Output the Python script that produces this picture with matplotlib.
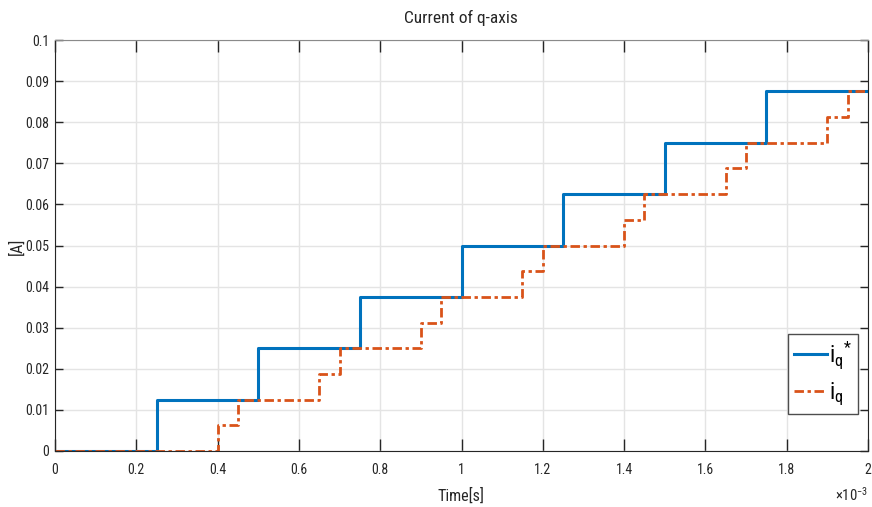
import numpy as np
import matplotlib
matplotlib.use("Agg")
import matplotlib.pyplot as plt
from matplotlib import font_manager

# step change times (ms) and levels (A) of the reference current
ref_times = [0.0, 0.25, 0.50, 0.75, 1.00, 1.25, 1.50, 1.75, 2.00]
ref_levels = [0.0, 0.0125, 0.025, 0.0375, 0.05, 0.0625, 0.075, 0.0875, 0.0875]

# step change times (ms) and levels (A) of the measured current
act_times = [0.0, 0.40, 0.45, 0.65, 0.70, 0.90, 0.95, 1.15, 1.20,
             1.40, 1.45, 1.65, 1.70, 1.90, 1.95, 2.00]
act_levels = [0.0, 0.00625, 0.0125, 0.01875, 0.025, 0.03125, 0.0375, 0.04375,
              0.05, 0.05625, 0.0625, 0.06875, 0.075, 0.08125, 0.0875, 0.0875]

x_ticks = [0, 0.2, 0.4, 0.6, 0.8, 1, 1.2, 1.4, 1.6, 1.8, 2]
x_tick_labels = ["0", "0.2", "0.4", "0.6", "0.8", "1", "1.2", "1.4", "1.6", "1.8", "2"]
y_ticks = [0, 0.01, 0.02, 0.03, 0.04, 0.05, 0.06, 0.07, 0.08, 0.09, 0.1]
y_tick_labels = ["0", "0.01", "0.02", "0.03", "0.04", "0.05", "0.06", "0.07", "0.08", "0.09", "0.1"]

names = {f.name for f in font_manager.fontManager.ttflist}
family = "Liberation Sans"
for cand in ["Liberation Sans Narrow", "Arial Narrow", "Roboto Condensed",
             "Open Sans Condensed", "Noto Sans Condensed"]:
    if cand in names:
        family = cand
        break
plt.rcParams["font.family"] = [family, "DejaVu Sans"]
plt.rcParams["mathtext.fontset"] = "custom"
plt.rcParams["mathtext.rm"] = family
plt.rcParams["mathtext.it"] = family

TXT = "#262626"

fig = plt.figure(figsize=(8.72, 5.07), dpi=100)
ax = fig.add_axes([55 / 872, 1 - 451 / 507, (868 - 55) / 872, (451 - 40) / 507])

ax.step(ref_times, ref_levels, where="post", color="#0072BD", lw=2.2,
        label=r"$\mathrm{i}_{\mathrm{q}}{}^{*}$")
ax.step(act_times, act_levels, where="post", color="#D95319", lw=2.0,
        linestyle=(0, (3.4, 1.3, 1.2, 1.3)), label=r"$\mathrm{i}_{\mathrm{q}}$")

ax.set_xlim(0, 2)
ax.set_ylim(0, 0.1)
ax.set_xticks(x_ticks)
ax.set_xticklabels(x_tick_labels)
ax.set_yticks(y_ticks)
ax.set_yticklabels(y_tick_labels)
ax.tick_params(direction="in", width=1, top=True, right=True,
               labelsize=10, colors=TXT)
ax.tick_params(axis="x", length=8.6, pad=9)
ax.tick_params(axis="y", length=5.8, pad=4)
ax.grid(True, color="#e4e4e4", lw=1)
ax.set_axisbelow(True)
for side in ["left", "bottom", "right"]:
    ax.spines[side].set_color(TXT)
ax.spines["top"].set_color("#8a8a8a")

fig.text(461 / 872, 1 - 23.5 / 507, "Current of q-axis", fontsize=12.5, color=TXT,
         ha="center", va="baseline")
fig.text(461 / 872, 1 - 501 / 507, "Time[s]", fontsize=11.5, color=TXT,
         ha="center", va="baseline")
fig.text(17 / 872, 1 - 246 / 507, "[A]", fontsize=11.5, color=TXT,
         ha="center", va="center", rotation=90)
fig.text(868 / 872, 1 - 495 / 507, r"$\times 10^{-3}$", fontsize=10.5, color=TXT,
         ha="right", va="center")

leg = ax.legend(loc="upper left", bbox_to_anchor=((788 - 55) / 813, (451 - 334) / 411),
                borderaxespad=0, fontsize=16.5, handlelength=1.45, handletextpad=0.1,
                borderpad=0.25, labelspacing=0.4, fancybox=False, framealpha=1,
                edgecolor="#4d4d4d")
leg.get_frame().set_linewidth(1)

fig.savefig("out.png", dpi=100)
